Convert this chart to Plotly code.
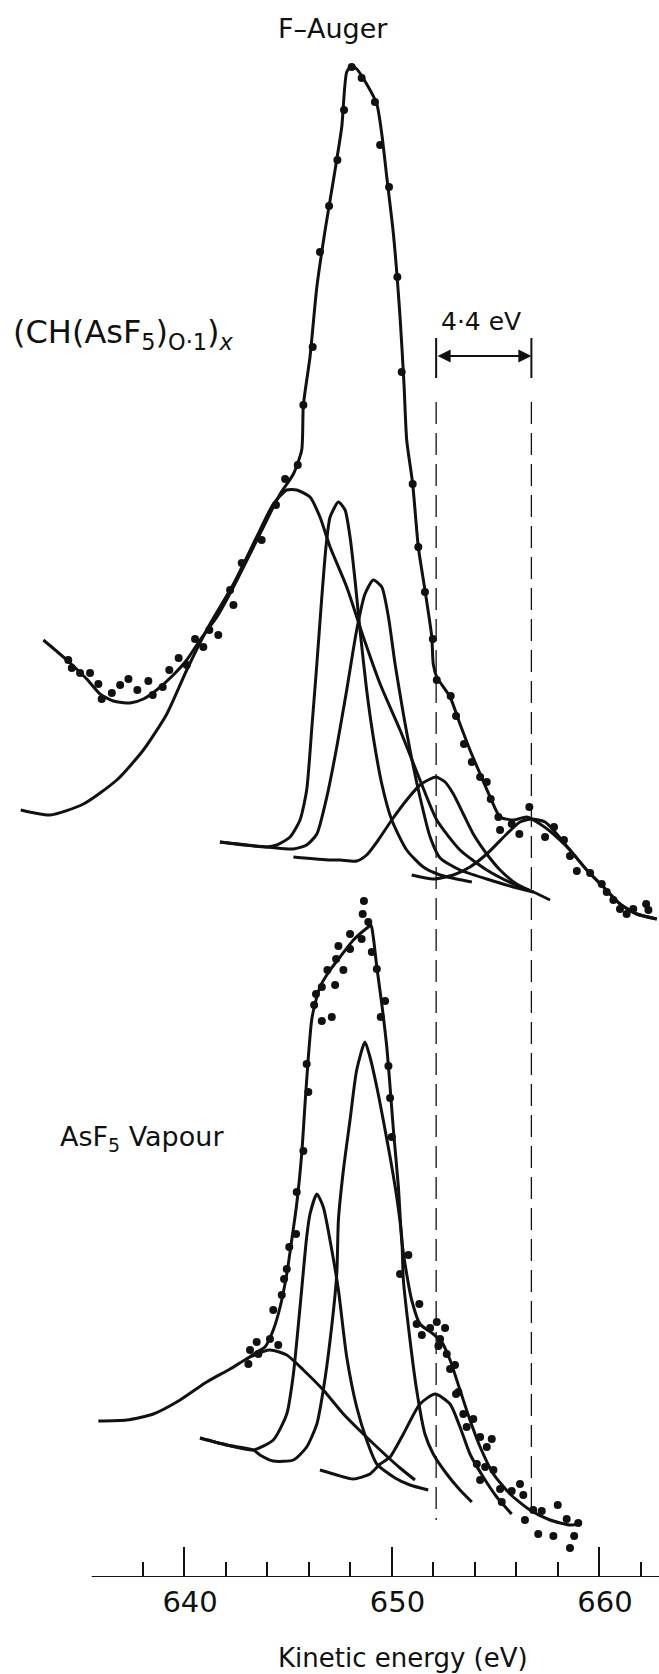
import plotly.graph_objects as go

# ---------------- data (kinetic energy in eV, intensity in arbitrary units) ----------------
# Upper spectrum: (CH(AsF5)0.1)x  -- fitted envelope
U_ENV_X = [633.22,634.35,635.31,635.95,636.59,637.40,638.04,638.68,639.48,640.13,640.77,641.58,642.38,643.18,643.99,644.63,645.27,645.67,645.75,646.07,646.40,646.80,647.20,647.60,647.84,648.08,648.32,648.80,649.29,649.53,649.77,650.09,650.41,650.60,650.73,651.02,651.29,651.61,651.94,652.01,652.18,652.82,653.30,653.78,654.27,654.75,655.23,655.87,656.52,657.16,657.80,658.60,659.41,660.21,661.01,661.82,662.78]
U_ENV_Y = [937,917,898,883,876,874,878,887,902,917,937,960,990,1023,1057,1083,1103,1127,1172,1220,1290,1347,1397,1450,1505,1511,1508,1493,1473,1443,1400,1343,1260,1193,1137,1093,1030,987,940,913,900,880,853,827,803,780,760,757,760,753,743,727,707,690,673,663,658]
# measured points
U_DOT_X = [634.42,634.59,634.99,635.47,635.87,636.03,636.52,636.92,637.32,637.75,638.28,638.49,638.97,639.29,639.74,640.13,640.53,640.93,641.22,641.65,642.22,642.38,642.78,643.74,644.43,644.87,645.48,645.75,646.20,646.55,646.99,647.39,647.71,648.08,648.56,649.20,649.45,649.88,650.28,650.49,651.02,651.29,651.61,651.99,652.18,652.85,653.11,653.49,653.87,654.27,654.59,654.78,655.15,655.23,655.79,656.16,656.64,657.40,657.83,658.31,658.60,658.93,659.57,660.13,660.37,660.69,661.01,661.33,661.65,662.27,662.38]
U_DOT_Y = [917,909,904,904,893,878,884,892,898,887,896,882,890,907,919,912,938,930,947,942,987,972,1014,1037,1072,1098,1112,1172,1230,1325,1371,1417,1467,1510,1499,1475,1432,1390,1300,1205,1093,1030,985,938,897,881,861,833,815,800,795,778,760,747,753,743,770,740,750,737,721,706,704,693,685,677,668,663,668,673,667]
# fitted components
UA_X = [632.13,633.54,635.15,636.76,638.04,639.17,640.13,641.09,642.38,643.50,644.30,644.95,645.43,646.07,646.55,647.04,647.84,648.64,649.45,650.41,651.37,652.18,653.30,654.59,655.87,656.83,657.64]
UA_Y = [767,762,773,797,827,863,907,947,993,1040,1073,1087,1087,1080,1060,1030,990,940,893,847,797,757,727,707,693,685,677]
UB_X = [641.73,643.99,644.47,645.11,645.59,645.91,646.15,646.40,646.64,646.84,647.04,647.44,647.76,648.00,648.24,648.48,648.80,649.12,649.53,650.01,650.73,651.53,652.34,653.14,653.87]
UB_Y = [735,730,732,740,757,787,847,913,980,1030,1060,1075,1067,1040,997,947,887,840,793,757,727,710,702,698,695]
UC_X = [641.73,643.99,645.27,645.91,646.40,646.88,647.36,647.84,648.32,648.72,649.12,649.53,649.85,650.17,650.57,650.89,651.37,651.86,652.34,653.30,654.59,655.87,656.83]
UC_Y = [735,730,728,732,743,780,830,887,947,983,997,990,960,913,863,827,780,740,719,707,698,690,685]
UD_X = [645.27,647.04,647.52,648.32,648.80,649.36,650.01,650.73,651.37,651.86,652.14,652.58,652.98,653.46,653.94,654.59,655.23,656.03,656.83]
UD_Y = [720,717,717,716,722,737,757,777,792,798,800,795,783,763,743,723,707,693,685]
UE_X = [650.97,652.01,652.98,653.78,654.59,655.55,656.19,656.76,657.40,657.80,658.60,659.41,660.21,661.01,661.82,662.78]
UE_Y = [702,698,702,710,723,743,755,758,755,747,727,707,690,673,663,658]

# Lower spectrum: AsF5 vapour -- fitted envelope
L_ENV_X = [643.02,643.50,643.90,644.30,644.63,644.95,645.19,645.43,645.67,645.83,645.99,646.15,646.31,646.55,647.04,647.52,648.16,648.58,648.88,649.01,649.12,649.29,649.53,649.77,649.93,650.09,650.33,650.49,650.73,650.97,651.37,652.01,652.42,652.82,653.30,653.78,654.27,654.91,655.71,656.67,657.64,658.60,659.08]
L_ENV_Y = [218,225,230,247,270,303,337,373,423,473,520,557,573,590,607,620,637,645,650,652,640,610,573,530,490,447,390,337,303,277,253,243,235,217,187,157,130,103,83,67,57,52,53]
L_DOT_X = [648.67,648.61,648.88,648.00,648.56,647.44,648.00,647.33,649.05,646.91,647.68,649.29,646.64,647.28,646.36,646.27,646.64,647.12,649.69,649.48,645.91,649.85,645.99,649.93,645.75,650.01,645.43,645.40,645.07,
           644.95,644.82,644.71,644.30,644.14,644.54,643.50,643.18,643.58,643.10,
           650.41,650.81,651.34,651.21,651.46,651.86,652.18,652.58,652.34,652.26,652.66,653.06,652.82,653.22,653.11,653.46,653.94,653.62,654.27,654.83,654.59,654.11,654.51,654.27,654.91,655.23,655.31,655.79,656.19,656.35,656.43,656.83,657.07,657.24,657.80,658.01,658.44,658.60,658.80,659.00]
L_DOT_Y = [676,663,655,643,638,631,628,618,625,607,607,608,590,592,583,572,556,560,576,560,513,511,485,479,426,440,385,343,330,
           308,298,282,267,238,232,235,227,223,213,
           303,322,273,253,242,249,255,249,238,231,223,212,208,185,183,163,158,150,140,138,130,113,110,97,107,88,75,86,93,82,57,67,43,66,41,72,58,29,41,54]
LA_X = [635.87,637.24,638.52,639.81,641.09,642.22,643.18,644.14,644.95,645.75,646.71,647.68,648.64,649.45,650.41,651.13]
LA_Y = [156,157,163,177,195,208,220,227,222,207,187,163,143,127,109,97]
LB_X = [640.77,642.06,643.34,644.30,644.95,645.27,645.59,645.91,646.07,646.40,646.71,647.12,647.44,647.84,648.32,648.80,649.29,650.17,650.89,651.77]
LB_Y = [139,132,127,137,163,203,270,340,363,383,370,327,287,220,170,137,113,99,92,87]
LC_X = [640.77,642.06,643.34,643.66,644.30,645.27,645.91,646.40,646.71,647.04,647.36,647.44,647.68,648.00,648.32,648.72,648.96,649.29,649.60,649.93,650.25,650.49,650.57,650.89,651.21,651.61,652.01,652.66,653.30,653.87]
LC_Y = [139,132,127,122,116,117,130,153,187,237,303,357,407,457,507,535,520,490,457,420,380,340,297,237,187,143,123,103,87,75]
LD_X = [646.55,647.36,648.16,648.96,649.45,649.93,650.57,651.37,652.10,652.82,653.30,653.78,654.42,655.07,655.79]
LD_Y = [107,102,98,103,113,120,143,173,183,173,150,123,100,80,63]

# reference lines marking the 4.4 eV shift
SHIFT_X = [652.15, 656.74]
SHIFT_LABEL = "4·4 eV"

MAJOR_TICKS = [640, 650, 660]
MINOR_TICKS = [638, 642, 644, 646, 648, 652, 654, 656, 658, 662]

# ---------------- figure ----------------
INK = "#111111"
LW = 3.0
fig = go.Figure()

def curve(x, y):
    fig.add_trace(go.Scatter(x=x, y=y, mode="lines",
                             line=dict(color=INK, width=LW, shape="spline", smoothing=0.6),
                             hoverinfo="skip", showlegend=False))

def dots(x, y):
    fig.add_trace(go.Scatter(x=x, y=y, mode="markers",
                             marker=dict(color=INK, size=8, line=dict(width=0)),
                             hoverinfo="skip", showlegend=False, cliponaxis=False))

for cx, cy in [(UA_X, UA_Y), (UB_X, UB_Y), (UC_X, UC_Y), (UD_X, UD_Y), (UE_X, UE_Y),
               (U_ENV_X, U_ENV_Y),
               (LA_X, LA_Y), (LB_X, LB_Y), (LC_X, LC_Y), (LD_X, LD_Y),
               (L_ENV_X, L_ENV_Y)]:
    curve(cx, cy)
dots(U_DOT_X, U_DOT_Y)
dots(L_DOT_X, L_DOT_Y)

# dashed guide lines and 4.4 eV marker
DASH_TOP = 1175
DASH_BOTTOM = [57, 70]
for xv, yb in zip(SHIFT_X, DASH_BOTTOM):
    fig.add_shape(type="line", xref="x", yref="y", x0=xv, x1=xv, y0=DASH_TOP, y1=yb,
                  line=dict(color=INK, width=1.3, dash="22px,9px"))
    fig.add_shape(type="line", xref="x", yref="y", x0=xv, x1=xv, y0=1199, y1=1239,
                  line=dict(color=INK, width=2))
fig.add_annotation(x=SHIFT_X[1], y=1221, ax=SHIFT_X[0], ay=1221, xref="x", yref="y",
                   axref="x", ayref="y", text="", showarrow=True, arrowhead=2,
                   startarrowhead=2, arrowside="end+start", arrowsize=1.3,
                   startarrowsize=1.3, arrowwidth=2, arrowcolor=INK,
                   standoff=0, startstandoff=0)

# bottom axis line
fig.add_shape(type="line", xref="x", yref="y", x0=635.55, x1=662.89, y0=0, y1=0,
              line=dict(color=INK, width=2))

FONT = "DejaVu Sans, sans-serif"
def label(text, x, y, size, xanchor="center"):
    fig.add_annotation(x=x, y=y, xref="x", yref="y", text=text, showarrow=False,
                       xanchor=xanchor, yanchor="middle",
                       font=dict(family=FONT, size=size, color=INK))

label("F–Auger", 647.18, 1549, 27)
label("(CH(AsF<sub>5</sub>)<sub>O·1</sub>)<sub><i>x</i></sub>", 631.65, 1243, 32, "left")
label(SHIFT_LABEL, 654.31, 1256, 25)
label("AsF<sub>5</sub> Vapour", 633.94, 439, 27, "left")
fig.add_annotation(x=0.6108, y=-0.0514, xref="paper", yref="paper",
                   text="Kinetic energy (eV)", showarrow=False,
                   xanchor="center", yanchor="middle",
                   font=dict(family=FONT, size=26, color=INK))

fig.update_layout(
    width=659, height=1674,
    margin=dict(l=0, r=0, t=0, b=97, pad=0),
    paper_bgcolor="white", plot_bgcolor="white",
    showlegend=False,
    xaxis=dict(range=[631.13, 662.89], showgrid=False, zeroline=False, showline=False,
               tickmode="array", tickvals=MAJOR_TICKS, ticktext=[str(v) for v in MAJOR_TICKS],
               ticks="inside", ticklen=30, tickwidth=1.6, tickcolor=INK,
               tickfont=dict(family="DejaVu Sans, sans-serif", size=29, color=INK),
               ticklabelstandoff=5, ticklabelshift=6,
               minor=dict(tickmode="array", tickvals=MINOR_TICKS, ticks="inside",
                          ticklen=15, tickwidth=1.6, tickcolor=INK, showgrid=False)),
    yaxis=dict(range=[0, 1577], visible=False, showgrid=False, zeroline=False),
)

fig.write_html("out.html")
